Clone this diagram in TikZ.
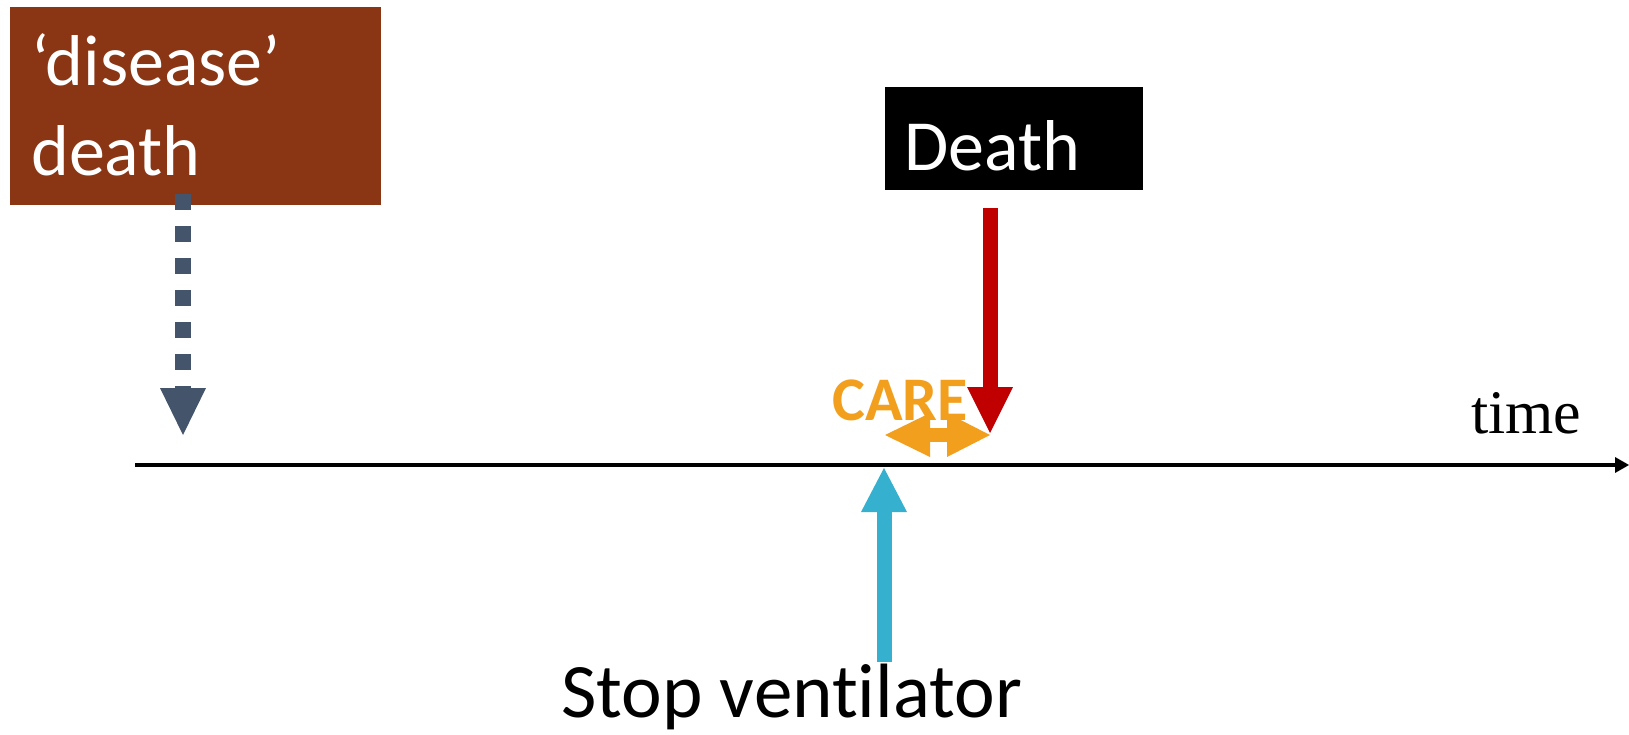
\documentclass[tikz,border=0pt]{standalone}
\usepackage{fontspec}
\setmainfont{Carlito}[Ligatures=NoCommon]
\newfontfamily\timesfont{Liberation Serif}
\usetikzlibrary{arrows.meta}
\definecolor{rust}{HTML}{8A3614}
\definecolor{slate}{HTML}{44546A}
\definecolor{deathred}{HTML}{C00000}
\definecolor{aqua}{HTML}{35B0CE}
\definecolor{careorange}{HTML}{F39F1E}
\tikzset{
  box/.style={rectangle,inner sep=0pt,anchor=north west},
  txt/.style={inner sep=0pt,anchor=base west},
  big/.style={font=\fontsize{72}{86}\selectfont},
  fathead/.style={-{Triangle[length=#1,width=46pt,line width=0pt]}}
}

\begin{document}
\begin{tikzpicture}[x=1pt,y=-1pt]
  \useasboundingbox (0,0) rectangle (1629,734);
  % boxes
  \node[box,fill=rust,minimum width=371pt,minimum height=198pt] (dbox) at (10,7) {};
  \node[box,fill=black,minimum width=258pt,minimum height=103pt] (deathbox) at (885,87) {};
  \node[txt,big,text=white] (dis1) at (31,85) {‘disease’};
  \node[txt,big,text=white] (dis2) at (31,175) {death};
  \node[txt,big,text=white] (death) at (904,170) {Death};
  % time axis
  \coordinate (axL) at (135,465);
  \coordinate (axR) at (1629,465);
  \draw[line width=4pt,-{Triangle[length=14pt,width=16pt,line width=0pt]}] (axL) -- (axR);
  \node[txt,font=\timesfont\fontsize{62}{74}\selectfont] (time) at (1471,433) {time};
  % disease death
  \coordinate (dtop) at (183,194);
  \coordinate (dtip) at (183,435);
  \draw[slate,line width=16pt,dash pattern=on 16pt off 16pt,fathead=47pt] (dtop) -- (dtip);
  % stop ventilator
  \coordinate (vbot) at (884,662);
  \coordinate (vtip) at (884,468);
  \draw[aqua,line width=15pt,fathead=44pt] (vbot) -- (vtip);
  \node[txt,font=\fontsize{77}{92}\selectfont] (stop) at (561,717) {Stop ventilator};
  % care
  \coordinate (careL) at (885,435);
  \coordinate (careR) at (990,435);
  \draw[careorange,line width=14pt,{Triangle[length=45pt,width=44pt,line width=0pt]}-{Triangle[length=43pt,width=44pt,line width=0pt]}] (careL) -- (careR);
  \node[txt,careorange,font=\bfseries\fontsize{62}{74}\selectfont] (care) at (832,420) {CARE};
  % death
  \coordinate (rtop) at (990,208);
  \coordinate (rtip) at (990,433);
  \draw[deathred,line width=15pt,fathead=46pt] (rtop) -- (rtip);
\end{tikzpicture}
\end{document}
